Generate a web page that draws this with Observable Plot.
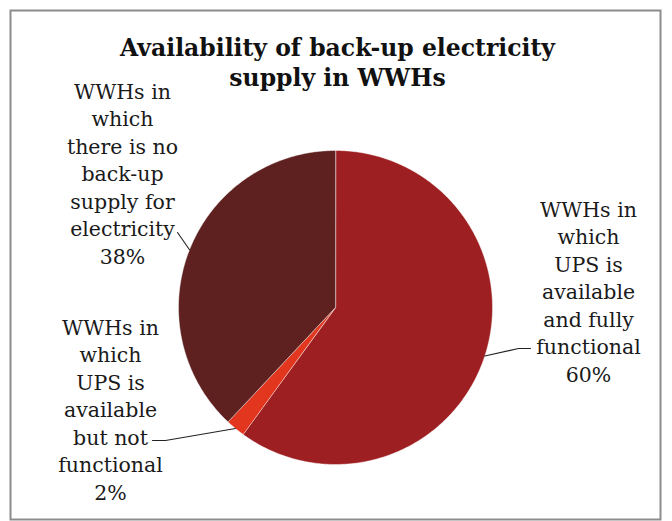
<!DOCTYPE html>
<html>
<head>
<meta charset="utf-8">
<script src="https://cdn.jsdelivr.net/npm/d3@7"></script>
<script src="https://cdn.jsdelivr.net/npm/@observablehq/plot@0.6"></script>
<style>
  html, body { margin: 0; padding: 0; background: #fff; }
</style>
</head>
<body>
<div id="chart"></div>
<script>
// ---- data ----
const categories = [
  "WWHs in which UPS is available and fully functional",
  "WWHs in which UPS is available but not functional",
  "WWHs in which there is no back-up supply for electricity"
];
const values = [60, 2, 38];
const labelTexts = [
  "WWHs in\nwhich\nUPS is\navailable\nand fully\nfunctional\n60%",
  "WWHs in\nwhich\nUPS is\navailable\nbut not\nfunctional\n2%",
  "WWHs in\nwhich\nthere is no\nback-up\nsupply for\nelectricity\n38%"
];
const colors = ["#9E1F21", "#E2361F", "#5E2120"];
const titleText = "Availability of back-up electricity\nsupply in WWHs";

// ---- layout ----
const W = 672, H = 521;
const cx = 335, cy = 307, R = 157;
const labelPos = [[588, 290], [110, 408], [122, 172]];
const elbows = [[[518, 348], [530, 348]], [[165, 440], [152, 440]], [[177, 232]]];

const pie = d3.pie().sort(null).value(d => d)(values);
const pt = (a, r) => [cx + r * Math.sin(a), cy - r * Math.cos(a)];

const slices = [];
pie.forEach((p, i) => {
  slices.push({cat: categories[i], x: cx, y: cy});
  const n = Math.max(2, Math.ceil((p.endAngle - p.startAngle) / 0.01));
  for (let k = 0; k <= n; k++) {
    const a = p.startAngle + (p.endAngle - p.startAngle) * k / n;
    const [x, y] = pt(a, R);
    slices.push({cat: categories[i], x, y});
  }
});

const leaders = [];
pie.forEach((p, i) => {
  const mid = (p.startAngle + p.endAngle) / 2;
  const [x, y] = pt(mid, R);
  leaders.push({cat: categories[i], x, y});
  elbows[i].forEach(([ex, ey]) => leaders.push({cat: categories[i], x: ex, y: ey}));
});

const labels = categories.map((c, i) => ({cat: c, text: labelTexts[i], x: labelPos[i][0], y: labelPos[i][1]}));

const font = "Georgia, 'DejaVu Serif', serif";

const chart = Plot.plot({
  width: W, height: H,
  margin: 0,
  x: {domain: [0, W], range: [0, W], axis: null},
  y: {domain: [0, H], range: [0, H], axis: null},
  color: {domain: categories, range: colors},
  style: {fontFamily: font, background: "#fff"},
  marks: [
    Plot.line(slices, {x: "x", y: "y", z: "cat", fill: "cat", curve: "linear-closed",
      stroke: "#ffffff", strokeWidth: 0.8, strokeOpacity: 0.55}),
    Plot.line(leaders, {x: "x", y: "y", z: "cat", stroke: "#222", strokeWidth: 1.1}),
    Plot.text(labels, {x: "x", y: "y", text: "text", fontSize: 20.5, lineHeight: 1.34,
      fill: "#1a1a1a", textAnchor: "middle", lineAnchor: "middle", fontFamily: font}),
    Plot.text([titleText], {x: () => 337, y: () => 61, text: d => d, fontSize: 23.5, fontWeight: "bold",
      lineHeight: 1.28, fill: "#111", textAnchor: "middle", lineAnchor: "middle", fontFamily: font}),
    Plot.frame({stroke: "#8c8c8c", strokeWidth: 2, insetLeft: 10, insetTop: 10, insetRight: 12, insetBottom: 2})
  ]
});
document.getElementById("chart").appendChild(chart);
</script>
</body>
</html>
